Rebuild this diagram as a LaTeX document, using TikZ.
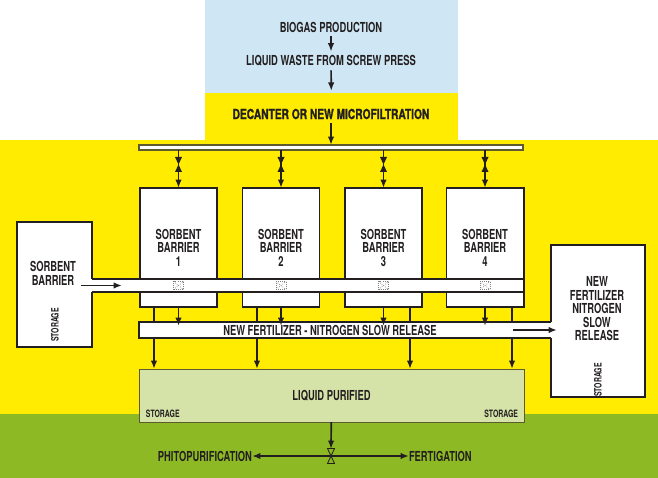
\documentclass[tikz,border=0pt]{standalone}
\usepackage{fontspec}
\setmainfont{TeX Gyre Heros}[FakeStretch=0.68]
\newfontfamily\heavyfont{TeX Gyre Heros}[FakeStretch=0.74, FakeBold=1.2]
\usetikzlibrary{arrows.meta,positioning,calc}

\definecolor{skyzone}{HTML}{CFE6F4}
\definecolor{yellowzone}{HTML}{FFEC00}
\definecolor{greenzone}{HTML}{8DBA24}
\definecolor{purified}{HTML}{D5E3A8}
\definecolor{ink}{HTML}{231F20}
\definecolor{olive}{HTML}{5C5A2E}

\begin{document}
\begin{tikzpicture}[
  x=0.025cm, y=-0.025cm,
  font=\fontsize{9.8}{9.6}\selectfont\bfseries, text=ink,
  every node/.style={inner sep=0pt, outer sep=0pt, align=center},
  flowtext/.style={inner ysep=0.1cm},
  barrier/.style={draw=ink, line width=1.4pt, fill=white, minimum width=1.925cm, minimum height=2.975cm},
  tank/.style={draw=ink, line width=1.4pt, fill=white},
  bar/.style={draw=olive, line width=0.8pt, fill=white},
  small/.style={font=\fontsize{7.2}{7}\selectfont\bfseries},
  gate/.style={draw=gray, densely dotted, line width=0.5pt, minimum width=0.25cm, minimum height=0.2cm,
    path picture={\draw[gray, densely dotted, line width=0.5pt]
      (path picture bounding box.north west) -- (path picture bounding box.south east)
      (path picture bounding box.south west) -- (path picture bounding box.north east);}},
  pipeline/.style={draw=ink, line width=1.2pt},
  arr/.style={-{Latex[length=6pt,width=4.6pt]}, draw=ink, line width=1.2pt},
  valve/.pic={\path[pic actions] (-3.5,-7.5) -- (3.5,-7.5) -- (-3.5,7.5) -- (3.5,7.5) -- cycle;}
]
  \useasboundingbox (0,0) rectangle (658,478);

  % background zones
  \node[fill=skyzone, minimum width=6.325cm, minimum height=2.325cm] (feedzone) at (331.5,46.5) {};
  \node[fill=yellowzone, minimum width=6.325cm, minimum height=1.2cm] (decbox) at (331.5,117) {};
  \node[fill=yellowzone, minimum width=16.45cm, minimum height=6.85cm] (plantzone) at (329,277) {};
  \node[fill=greenzone, minimum width=16.45cm, minimum height=1.6cm] (groundzone) at (329,446) {};

  % feed line
  \node[flowtext] (biogas) at (331,27) {BIOGAS PRODUCTION};
  \node[flowtext] (waste) at (331,61) {LIQUID WASTE FROM SCREW PRESS};
  \node[flowtext, font=\fontsize{9.8}{9.6}\heavyfont\bfseries] (decanter) at (331,114) {DECANTER OR NEW MICROFILTRATION};
  \node[bar, minimum width=9.6cm, minimum height=0.125cm] (header) at (331,147.5) {};

  \draw[arr] (biogas) -- (waste);
  \draw[arr, shorten >=1.5pt] (waste) -- (decbox);
  \draw[arr] (decanter) -- (header);

  % storage tanks
  \node[tank, minimum width=1.875cm, minimum height=3.125cm] (sorbent) at (54.5,284.5) {};
  \node (sorbtxt) at (53,273.5) {SORBENT\\BARRIER};
  \node[small, rotate=90] (sorbstore) at (55,325) {STORAGE};

  \node[tank, minimum width=2.35cm, minimum height=3.8cm] (newfert) at (598,321) {};
  \node (nftxt) at (597,309) {NEW\\FERTILIZER\\NITROGEN\\SLOW\\RELEASE};
  \node[small, rotate=90] (nfstore) at (598,380) {STORAGE};

  % sorbent barriers
  \foreach \i/\x in {1/178.5, 2/281, 3/383.5, 4/485} {
    \node[barrier] (b\i) at (\x,247.5) {SORBENT\\BARRIER\\\i};
    \draw[arr] (header.south -| b\i) -- (b\i.north);
    \pic[fill=ink] at (\x,164.5) {valve};
  }

  % sorbent feed pipe
  \node[fill=white, minimum width=10.85cm, minimum height=0.325cm] (feed) at (307,285.5) {};
  \draw[pipeline] (sorbent.east |- feed.north) -- (feed.north -| b4.east)
    -- (feed.south -| b4.east) -- (sorbent.east |- feed.south);
  \foreach \i in {1,...,4}
    \node[gate] (g\i) at (b\i |- feed) {};
  \draw[arr] ([xshift=-0.275cm]sorbent.east |- feed.center) -- ([xshift=0.75cm]sorbent.east |- feed.center);

  % fertilizer pipe
  \node[fill=white, minimum width=10.35cm, minimum height=0.4cm] (fert) at (346,330) {};
  \draw[pipeline] (newfert.west |- fert.north) -- (fert.north west)
    -- (fert.south west) -- (newfert.west |- fert.south);
  \node (ferttxt) at (330,330) {NEW FERTILIZER - NITROGEN SLOW RELEASE};
  \draw[arr] ([xshift=-0.95cm]newfert.west |- fert.center) -- ([xshift=0.15cm]newfert.west |- fert.center);

  % purified liquid
  \node[draw=olive, line width=0.6pt, fill=purified, minimum width=9.625cm, minimum height=1.325cm] (liquid) at (331.5,395.5) {LIQUID PURIFIED};
  \node[small, above right=0.12cm and 0.175cm of liquid.south west] (store1) {STORAGE};
  \node[small, above left=0.12cm and 0.15cm of liquid.south east] (store2) {STORAGE};

  \foreach \i/\dx in {1/-0.6125cm, 2/-0.6cm, 3/0.6625cm, 4/0.675cm} {
    \draw[pipeline] ([xshift=\dx]b\i.south) -- ([xshift=\dx]b\i.south |- fert.north);
    \draw[arr] (b\i.south) -- ([yshift=-0.1cm]b\i.south |- fert.north);
    \draw[arr] ([xshift=\dx]b\i.south |- fert.south) -- ([xshift=\dx]b\i.south |- liquid.north);
  }

  % outlets
  \coordinate (tap) at (331,456);
  \node[anchor=east] (phito) at (252,456) {PHITOPURIFICATION};
  \node[anchor=west] (fertig) at (409,456) {FERTIGATION};
  \draw[arr] (liquid) -- ([yshift=0.175cm]tap);
  \draw[arr] (tap) -- (phito.east);
  \draw[arr] (tap) -- (fertig.west);
  \pic[draw=ink, line width=0.6pt, fill=greenzone] at (tap) {valve};
\end{tikzpicture}
\end{document}
